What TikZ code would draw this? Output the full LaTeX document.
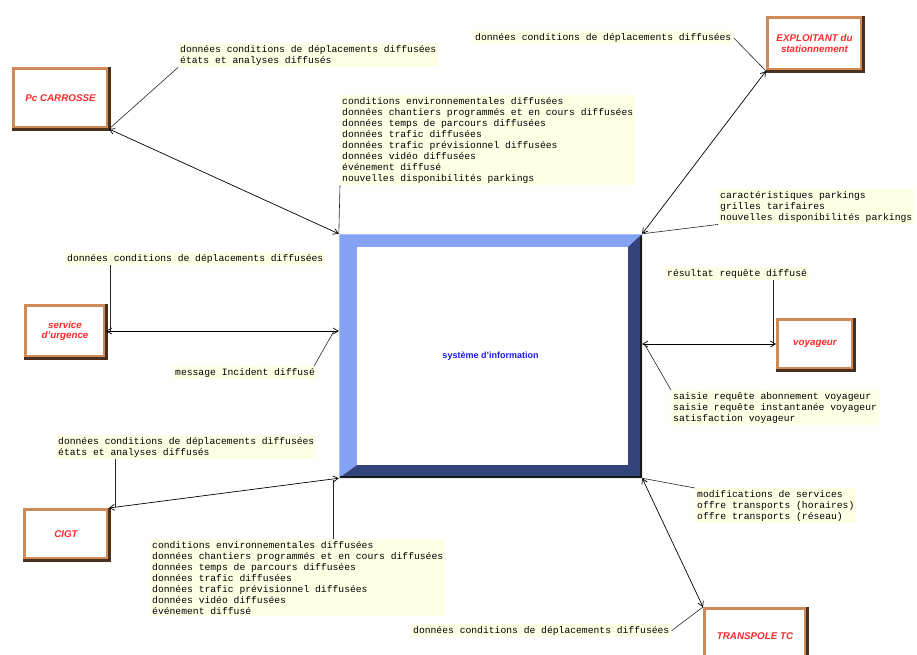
\documentclass[tikz,border=0pt]{standalone}
\usepackage{fontspec}
\setmainfont{Liberation Sans}
\newfontfamily\monofont{Liberation Mono}
\usetikzlibrary{arrows.meta}
\definecolor{lblbg}{HTML}{FFFFE6}
\definecolor{boxtan}{HTML}{D08A58}
\definecolor{boxdark}{HTML}{4A2E1E}
\definecolor{redtxt}{HTML}{FF2A2A}
\definecolor{siblue}{HTML}{1A1AF0}
\definecolor{bevlight}{HTML}{85A3F2}
\definecolor{bevedge}{HTML}{A4BEFF}
\definecolor{bevdark}{HTML}{33447A}
\begin{document}
\begin{tikzpicture}[x=1pt,y=-1pt,
 lbl/.style={anchor=north west, fill=lblbg, inner xsep=2pt, inner ysep=2pt, align=left, text=black, font=\monofont\fontsize{9.7}{11}\selectfont},
 ent/.style={draw=boxtan, line width=3pt, fill=white, inner sep=0pt, font=\bfseries\itshape\fontsize{9.8}{10.5}\selectfont, text=redtxt, align=center},
 entdark/.style={draw=boxdark, line width=3pt},
 flow/.style={draw=black, line width=0.7pt, {Straight Barb[length=5pt,width=6pt]}-{Straight Barb[length=5pt,width=6pt]}},
 lead/.style={draw=black!85, line width=0.6pt}]
\useasboundingbox (0,0) rectangle (917,654);
\clip (0,0) rectangle (917,654);

% central box
\fill[bevlight] (339,234) -- (642,234) -- (628,247) -- (357,247) -- (357,465) -- (339,478) -- cycle;
\fill[bevdark] (642,234) -- (642,478) -- (339,478) -- (357,465) -- (628,465) -- (628,247) -- cycle;
\draw[bevedge, line width=1.2pt] (339.6,478) -- (339.6,234.6) -- (642,234.6);
\draw[black!90, line width=2pt] (340,477) -- (641,477) -- (641,236);
\fill[white] (357,247) rectangle (628,465);
\node[inner sep=0pt, minimum width=303pt, minimum height=244pt, text=siblue, font=\bfseries\fontsize{9}{10}\selectfont] (si) at (490.5,356) {système d'information};

% entities
\node[ent, minimum width=94pt, minimum height=59pt] (pc) at (60.5,98) {Pc CARROSSE};
\draw[entdark] (pc.north east) -- (pc.south east) -- (pc.south west);
\node[ent, minimum width=94pt, minimum height=52pt] (exp) at (814.5,43.5) {EXPLOITANT du\\stationnement};
\draw[entdark] (exp.north east) -- (exp.south east) -- (exp.south west);
\node[ent, minimum width=79pt, minimum height=51pt] (urg) at (65,331) {service\\d'urgence};
\draw[entdark] (urg.north east) -- (urg.south east) -- (urg.south west);
\node[ent, minimum width=75pt, minimum height=49pt] (voy) at (815,344) {voyageur};
\draw[entdark] (voy.north east) -- (voy.south east) -- (voy.south west);
\node[ent, minimum width=83pt, minimum height=49pt] (cigt) at (66,534) {CIGT};
\draw[entdark] (cigt.north east) -- (cigt.south east) -- (cigt.south west);
\node[ent, minimum width=101pt, minimum height=55pt] (tc) at (755,636) {TRANSPOLE TC};
\draw[entdark] (tc.north east) -- (tc.south east) -- (tc.south west);

% labels
\node[lbl] (L1) at (178,43) {données conditions de déplacements diffusées\\états et analyses diffusés};
\node[lbl] (L2) at (340,95) {conditions environnementales diffusées\\données chantiers programmés et en cours diffusées\\données temps de parcours diffusées\\données trafic diffusées\\données trafic prévisionnel diffusées\\données vidéo diffusées\\événement diffusé\\nouvelles disponibilités parkings};
\node[lbl] (L3) at (473,31) {données conditions de déplacements diffusées};
\node[lbl] (L4) at (718,189) {caractéristiques parkings\\grilles tarifaires\\nouvelles disponibilités parkings};
\node[lbl] (L5) at (65,252) {données conditions de déplacements diffusées};
\node[lbl] (L6) at (173,366) {message Incident diffusé};
\node[lbl] (L7) at (665,267) {résultat requête diffusé};
\node[lbl] (L8) at (671,390) {saisie requête abonnement voyageur\\saisie requête instantanée voyageur\\satisfaction voyageur};
\node[lbl] (L9) at (56,435) {données conditions de déplacements diffusées\\états et analyses diffusés};
\node[lbl] (L10) at (150,539) {conditions environnementales diffusées\\données chantiers programmés et en cours diffusées\\données temps de parcours diffusées\\données trafic diffusées\\données trafic prévisionnel diffusées\\données vidéo diffusées\\événement diffusé};
\node[lbl] (L11) at (695,488) {modifications de services\\offre transports (horaires)\\offre transports (réseau)};
\node[lbl] (L12) at (411,624) {données conditions de déplacements diffusées};

% flows
\draw[flow] (pc.south east) -- (si.north west);
\draw[flow] (si.north east) -- (exp.south west);
\draw[flow] (urg.east) -- (si.west |- urg.east);
\draw[flow] (si.east |- voy.west) -- (voy.west);
\draw[flow] (cigt.north east) -- (si.south west);
\draw[flow] (si.south east) -- (tc.north west);

% leader lines
\coordinate (u5) at (110,331);
\coordinate (u6) at (334,331);
\coordinate (v7) at (773,344);
\coordinate (v8) at (645,345);
\coordinate (c9) at (115,507);
\coordinate (c10) at (333,480);
\draw[lead] (L1.south west) -- (pc.south east);
\draw[lead] (L2.south west) -- (si.north west);
\draw[lead] (L3.east) -- (exp.south west);
\draw[lead] (L4.south west) -- (si.north east);
\draw[lead] (L5.south -| u5) -- (u5);
\draw[lead] ([xshift=-3pt]L6.north east) -- (u6);
\draw[lead] (L7.south -| v7) -- (v7);
\draw[lead] (L8.north west) -- (v8);
\draw[lead] (L9.south -| c9) -- (c9);
\draw[lead] (L10.north -| c10) -- (c10);
\draw[lead] (L11.north west) -- (si.south east);
\draw[lead] (L12.east) -- (tc.north west);
\end{tikzpicture}
\end{document}
